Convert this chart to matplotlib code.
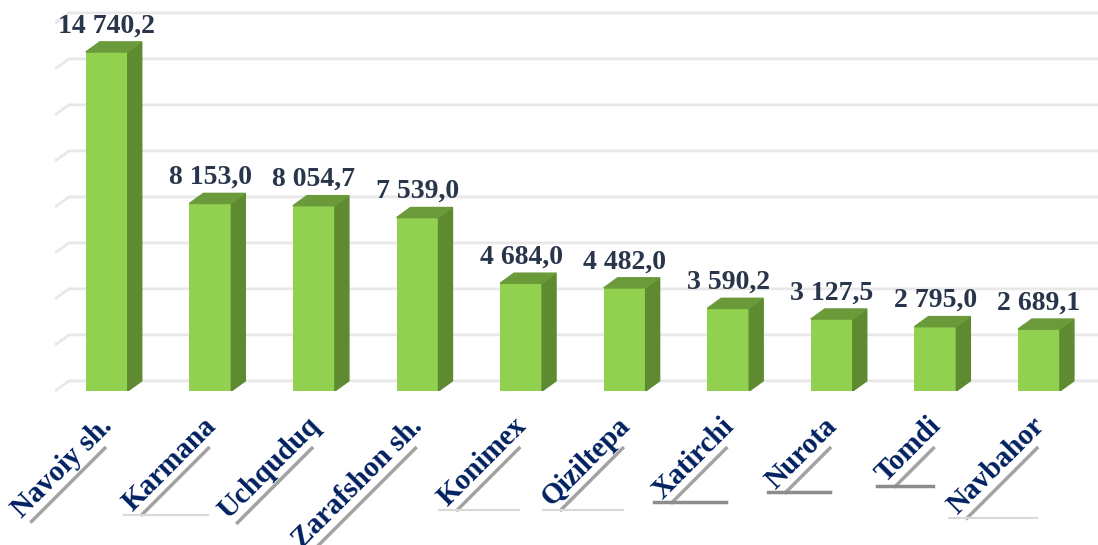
import matplotlib
matplotlib.use("Agg")
import matplotlib.pyplot as plt
from matplotlib.patches import Polygon
import numpy as np

# districts and values
districts = ["Navoiy sh.", "Karmana", "Uchquduq", "Zarafshon sh.", "Konimex",
             "Qiziltepa", "Xatirchi", "Nurota", "Tomdi", "Navbahor"]
values = [14740.2, 8153.0, 8054.7, 7539.0, 4684.0, 4482.0, 3590.2, 3127.5, 2795.0, 2689.1]
grid_values = [0, 2000, 4000, 6000, 8000, 10000, 12000, 14000, 16000]

# flat grey stroke under some labels in the reference (None / light / dark)
flat_stroke = [None, "light", None, None, "light", "light", "dark", "dark", "dark", "light"]

FRONT = "#92d050"
SIDE = "#5e8a31"
TOP = "#6b9a3a"
GRID = "#e8e8e8"
NAVY = "#002060"
VALUE_COL = "#28354b"

BAR_W = 0.405
DX = 0.135      # depth in category units
DY = 440        # depth in value units
XMIN, XMAX = -0.5, 9.57
YMAX = 17000
LAB_SIZE = 21
LAB_OFF = (6.5, -36)   # label baseline end relative to bar foot, pixels

plt.rcParams["font.family"] = ["Liberation Serif", "DejaVu Serif"]

fig = plt.figure(figsize=(10.98, 5.45), dpi=100)
ax = fig.add_axes([55 / 1098, 154 / 545, 1043 / 1098, 391 / 545])
ax.set_xlim(XMIN, XMAX)
ax.set_ylim(0, YMAX)
ax.set_axis_off()

# back wall grid with the slanted floor edge at the left
for g in grid_values:
    ax.plot([XMIN, XMIN + DX, XMAX], [g, g + DY, g + DY], color=GRID, lw=2,
            zorder=0, solid_capstyle="butt", clip_on=False)

x = np.arange(len(districts))
ax.bar(x, values, width=BAR_W, color=FRONT, zorder=3)

for xi, v in zip(x, values):
    r = xi + BAR_W / 2
    l = xi - BAR_W / 2
    ax.add_patch(Polygon([(r, 0), (r + DX, DY), (r + DX, v + DY), (r, v)],
                         closed=True, color=SIDE, zorder=3))
    ax.add_patch(Polygon([(l, v), (r, v), (r + DX, v + DY), (l + DX, v + DY)],
                         closed=True, color=TOP, zorder=3))
    txt = f"{v:,.1f}".replace(",", " ").replace(".", ",")
    ax.annotate(txt, (xi, v + DY), xytext=(0, 2.5), textcoords="offset points",
                ha="center", va="bottom", fontsize=20, fontweight="bold",
                color=VALUE_COL)

# rotated category labels
pt = 72 / fig.dpi
for xi, name in zip(x, districts):
    ax.annotate(name, (xi, 0), xytext=(LAB_OFF[0] * pt, LAB_OFF[1] * pt),
                textcoords="offset points", rotation=45, rotation_mode="anchor",
                ha="right", va="baseline", fontsize=LAB_SIZE, fontweight="bold",
                color=NAVY, annotation_clip=False)

# grey strokes under the rotated labels
fig.canvas.draw()
renderer = fig.canvas.get_renderer()
c = s = np.sqrt(0.5)
along = np.array([c, s])
below = np.array([s, -c])
inv = fig.transFigure.inverted()
for xi, name, flat in zip(x, districts, flat_stroke):
    tmp = fig.text(0, 0, name, fontsize=LAB_SIZE, fontweight="bold")
    L = tmp.get_window_extent(renderer).width
    tmp.remove()
    end_pt = ax.transData.transform((xi, 0)) + np.array(LAB_OFF)
    start = end_pt + (-L + 5) * along + 9 * below
    stop = end_pt + (-21) * along + 9 * below
    p0, p1 = inv.transform(start), inv.transform(stop)
    fig.add_artist(plt.Line2D([p0[0], p1[0]], [p0[1], p1[1]], color="#a3a3a3",
                              lw=2.5, transform=fig.transFigure))
    if flat is not None:
        h0 = inv.transform(start + np.array([-18, 0]))
        h1 = inv.transform(np.array([stop[0], start[1]]))
        col, lw = ("#d9d9d9", 1.5) if flat == "light" else ("#8c8c8c", 2.5)
        fig.add_artist(plt.Line2D([h0[0], h1[0]], [h0[1], h1[1]], color=col,
                                  lw=lw, transform=fig.transFigure))

fig.savefig("out.png", dpi=100)
